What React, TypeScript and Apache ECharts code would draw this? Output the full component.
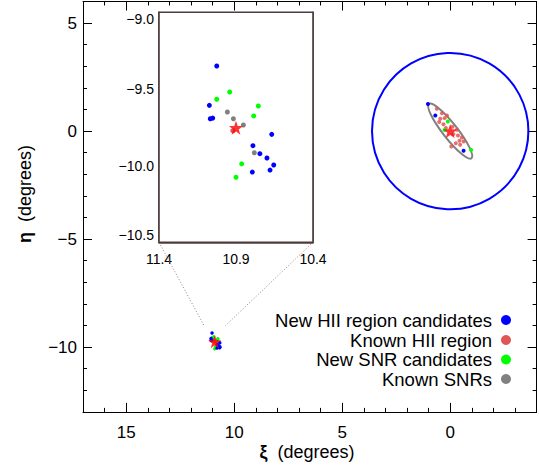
import React, { useEffect, useRef } from "react";
import * as echarts from "echarts";

// ---- data (degrees) ----
const m31Centre = [[0, 0]];
const m33Centre = [[10.9, -9.753]];

const m31NewHII = [[1.03, 1.25], [0.69, 0.72], [-0.62, -0.91]];
const m31NewSNR = [[0.11, 0.44], [0.26, 0.05], [-0.97, -0.87]];
const m31KnownHII = [
  [0.62, 1.03], [0.38, 0.83], [0.15, 0.72], [0.26, 0.6], [0.46, 0.57], [0.51, 0.42],
  [0.31, 0.32], [0.2, 0.14], [-0.11, 0.2], [-0.31, 0.06], [-0.15, -0.14], [-0.36, -0.2],
  [-0.54, -0.3], [-0.43, -0.45], [-0.26, -0.56], [-0.46, -0.63], [-0.05, -0.71], [-0.62, -0.48],
];

const m33NewHII = [
  [11.025, -9.35], [11.073, -9.607], [11.067, -9.694], [11.051, -9.69], [10.668, -9.796],
  [10.79, -9.87], [10.745, -9.922], [10.699, -9.95], [10.655, -9.996], [10.679, -10.029],
  [10.794, -10.042],
];
const m33NewSNR = [
  [10.941, -9.52], [11.025, -9.567], [10.755, -9.611], [10.785, -9.676], [10.863, -9.988], [10.9, -10.076],
];
const m33KnownSNR = [[10.956, -9.65], [10.917, -9.694], [10.852, -9.735], [10.781, -9.916]];
const m33KnownHII = [[10.921, -9.772]];

// circle: [xi, eta, radius]; ellipse: [xi, eta, semi-major, semi-minor, PA]
const haloCircle = [[0, 0, 3.62]];
const diskEllipse = [[0, 0, 1.6, 0.34, 38]];

const mainXTicks = [0, 5, 10, 15];
const mainYTicks = [-10, -5, 0, 5];
const insetXTicks = [10.4, 10.9, 11.4];
const insetBox = { xMin: 10.4, xMax: 11.4, yMin: -10.5, yMax: -9.0 };

const legendNames = ["New HII region candidates", "Known HII region", "New SNR candidates", "Known SNRs"];
const legendColors = ["#0000ff", "#e05555", "#00ff00", "#808080"];

const FONT = "'Liberation Sans', Arial, Helvetica, sans-serif";
const BLUE = "#0000ff", GREEN = "#00ff00", GRAY = "#808080", RED = "#e05555", STAR = "#ff0000";
const FRAME = "#4e3c3c";

const fmtMain = (v: number) => (v < 0 ? "\u2212" + Math.abs(v) : String(v));
const fmtInset = (v: number) => (v < 0 ? "\u2212" + Math.abs(v).toFixed(1) : v.toFixed(1));

export default function App() {
  const ref = useRef<HTMLDivElement>(null);
  useEffect(() => {
    if (!ref.current) return;
    const chart = echarts.init(ref.current, undefined, { renderer: "svg" });

    const line = (show: boolean, color = "#000", width = 1) => ({ show, onZero: false, lineStyle: { color, width } });

    const mainX = (position: string, labels: boolean) => ({
      type: "value", gridIndex: 0, position, min: -4, max: 17, inverse: true,
      axisLine: line(true), splitLine: { show: false },
      axisTick: { show: true, inside: true, length: 9, customValues: mainXTicks, lineStyle: { color: "#000" } },
      axisLabel: labels
        ? { show: true, customValues: mainXTicks, formatter: fmtMain, fontSize: 17, fontFamily: FONT, color: "#000", margin: 12 }
        : { show: false },
    });
    const minorX = (position: string) => ({
      type: "value", gridIndex: 0, position, min: -4, max: 17, inverse: true, interval: 1,
      axisLine: line(false), splitLine: { show: false }, axisLabel: { show: false },
      axisTick: { show: true, inside: true, length: 4, lineStyle: { color: "#000" } },
    });
    const mainY = (position: string, labels: boolean) => ({
      type: "value", gridIndex: 0, position, min: -13, max: 6,
      axisLine: line(true), splitLine: { show: false },
      axisTick: { show: true, inside: true, length: 9, customValues: mainYTicks, lineStyle: { color: "#000" } },
      axisLabel: labels
        ? { show: true, customValues: mainYTicks, formatter: fmtMain, fontSize: 17, fontFamily: FONT, color: "#000", margin: 6 }
        : { show: false },
    });
    const minorY = (position: string) => ({
      type: "value", gridIndex: 0, position, min: -13, max: 6, interval: 1,
      axisLine: line(false), splitLine: { show: false }, axisLabel: { show: false },
      axisTick: { show: true, inside: true, length: 4, lineStyle: { color: "#000" } },
    });
    const insetX = (position: string, labels: boolean) => ({
      type: "value", gridIndex: 1, position, min: insetBox.xMin, max: insetBox.xMax, inverse: true,
      axisLine: line(true, FRAME, 1.6), splitLine: { show: false },
      axisTick: { show: true, inside: true, length: 4, customValues: [10.9], lineStyle: { color: "#000" } },
      axisLabel: labels
        ? { show: true, customValues: insetXTicks, formatter: fmtInset, fontSize: 14, fontFamily: FONT, color: "#000", margin: 10 }
        : { show: false },
    });
    const insetY = (position: string, labels: boolean) => ({
      type: "value", gridIndex: 1, position, min: insetBox.yMin, max: insetBox.yMax, interval: 0.5,
      axisLine: line(true, FRAME, 1.6), splitLine: { show: false },
      axisTick: { show: true, inside: true, length: 4, lineStyle: { color: "#000" } },
      axisLabel: labels
        ? {
            show: true, formatter: fmtInset, fontSize: 14, fontFamily: FONT, color: "#000", margin: 5,
            verticalAlignMinLabel: "bottom", verticalAlignMaxLabel: "top",
          }
        : { show: false },
    });

    const scatter = (name: string, data: number[][], color: string, size: number, axis: number, z = 3, opacity = 1) => ({
      type: "scatter", name, data, xAxisIndex: axis, yAxisIndex: axis,
      symbol: "circle", symbolSize: size, z,
      itemStyle: { color, opacity }, silent: true,
    });
    const star = (data: number[][], size: number, axis: number) => ({
      type: "scatter", name: "centre", data, xAxisIndex: axis, yAxisIndex: axis,
      symbol: "path://M0,-10L2.35,-3.24L9.51,-3.09L3.8,1.24L5.88,8.09L0,4L-5.88,8.09L-3.8,1.24L-9.51,-3.09L-2.35,-3.24Z",
      symbolSize: size, z: 10, itemStyle: { color: STAR }, silent: true,
    });

    const option: any = {
      animation: false,
      backgroundColor: "#fff",
      grid: [
        { left: 83, top: 1.5, width: 453.6, height: 410.4, show: false, outerBoundsMode: "none", containLabel: false },
        { left: 159, top: 12.3, width: 154, height: 230, show: true, backgroundColor: "#fff", borderColor: FRAME, borderWidth: 1.6, outerBoundsMode: "none", containLabel: false, z: 5 },
      ],
      xAxis: [mainX("bottom", true), mainX("top", false), minorX("bottom"), minorX("top"), insetX("bottom", true), insetX("top", false)],
      yAxis: [mainY("left", true), mainY("right", false), minorY("left"), minorY("right"), insetY("left", true), insetY("right", false)],
      series: [
        {
          type: "custom", name: "halo", xAxisIndex: 0, yAxisIndex: 0, data: haloCircle, silent: true, z: 2,
          encode: { x: 0, y: 1 },
          renderItem: (_p: any, api: any) => {
            const c = api.coord([api.value(0), api.value(1)]);
            const r = Math.abs(api.size([api.value(2), 0])[0]);
            return { type: "circle", shape: { cx: c[0], cy: c[1], r }, style: { fill: "none", stroke: BLUE, lineWidth: 2 } };
          },
        },
        {
          type: "custom", name: "disk", xAxisIndex: 0, yAxisIndex: 0, data: diskEllipse, silent: true, z: 2,
          encode: { x: 0, y: 1 },
          renderItem: (_p: any, api: any) => {
            const c = api.coord([api.value(0), api.value(1)]);
            const a = Math.abs(api.size([0, api.value(2)])[1]);
            const b = Math.abs(api.size([api.value(3), 0])[0]);
            return {
              type: "ellipse", x: c[0], y: c[1], rotation: (api.value(4) * Math.PI) / 180,
              shape: { cx: 0, cy: 0, rx: b, ry: a },
              style: { fill: "none", stroke: GRAY, lineWidth: 2 },
            };
          },
        },
        scatter("Known HII region", m31KnownHII, RED, 4, 0, 3, 0.85),
        scatter("New HII region candidates", m31NewHII, BLUE, 4, 0, 4),
        scatter("New SNR candidates", m31NewSNR, GREEN, 4, 0, 4),
        star(m31Centre, 14, 0),
        scatter("Known SNRs", m33KnownSNR, GRAY, 3, 0, 3),
        scatter("Known HII region", m33KnownHII, RED, 3, 0, 3),
        scatter("New SNR candidates", m33NewSNR, GREEN, 3.5, 0, 4),
        scatter("New HII region candidates", m33NewHII, BLUE, 3.5, 0, 4),
        star(m33Centre, 13, 0),
        scatter("Known SNRs", m33KnownSNR, GRAY, 5, 4, 6),
        scatter("Known HII region", m33KnownHII, RED, 5, 4, 6),
        scatter("New SNR candidates", m33NewSNR, GREEN, 5, 4, 6),
        scatter("New HII region candidates", m33NewHII, BLUE, 5, 4, 6),
        { ...star(m33Centre, 14, 4), z: 12 },
      ],
    };
    chart.setOption(option);

    const bl = chart.convertToPixel({ gridIndex: 1 } as any, [insetBox.xMax, insetBox.yMin]) as number[];
    const br = chart.convertToPixel({ gridIndex: 1 } as any, [insetBox.xMin, insetBox.yMin]) as number[];
    const zl = chart.convertToPixel({ gridIndex: 0 } as any, [insetBox.xMax, insetBox.yMax]) as number[];
    const zr = chart.convertToPixel({ gridIndex: 0 } as any, [insetBox.xMin, insetBox.yMax]) as number[];

    const legendRows = [320, 340, 359.5, 379];
    const graphic: any[] = [
      { type: "line", shape: { x1: bl[0], y1: bl[1], x2: zl[0], y2: zl[1] }, style: { stroke: "#a08080", lineWidth: 1, lineDash: [1, 2] }, z: 1, silent: true },
      { type: "line", shape: { x1: br[0], y1: br[1], x2: zr[0], y2: zr[1] }, style: { stroke: "#a08080", lineWidth: 1, lineDash: [1, 2] }, z: 1, silent: true },
      {
        type: "text", x: 307, y: 452,
        style: {
          text: "{g|\u03be}  (degrees)", fontSize: 18, fontFamily: FONT, fill: "#000",
          align: "center", verticalAlign: "middle",
          rich: { g: { fontSize: 18, fontWeight: "bold", fontFamily: FONT } },
        },
        silent: true,
      },
      {
        type: "text", x: 25, y: 194, rotation: Math.PI / 2,
        style: {
          text: "{g|\u03b7}  (degrees)", fontSize: 18, fontFamily: FONT, fill: "#000",
          align: "center", verticalAlign: "middle",
          rich: { g: { fontSize: 18, fontWeight: "bold", fontFamily: FONT } },
        },
        silent: true,
      },
    ];
    legendNames.forEach((n, i) => {
      graphic.push({
        type: "text", x: 492, y: legendRows[i],
        style: { text: n, fontSize: 18.5, fontFamily: FONT, fill: "#000", align: "right", verticalAlign: "middle" },
        silent: true, z: 20,
      });
      graphic.push({
        type: "circle", shape: { cx: 506, cy: legendRows[i], r: 5 }, style: { fill: legendColors[i] }, silent: true, z: 20,
      });
    });
    chart.setOption({ graphic });

    return () => chart.dispose();
  }, []);

  return <div ref={ref} style={{ position: "fixed", left: 0, top: 0, width: 539, height: 471 }} />;
}
